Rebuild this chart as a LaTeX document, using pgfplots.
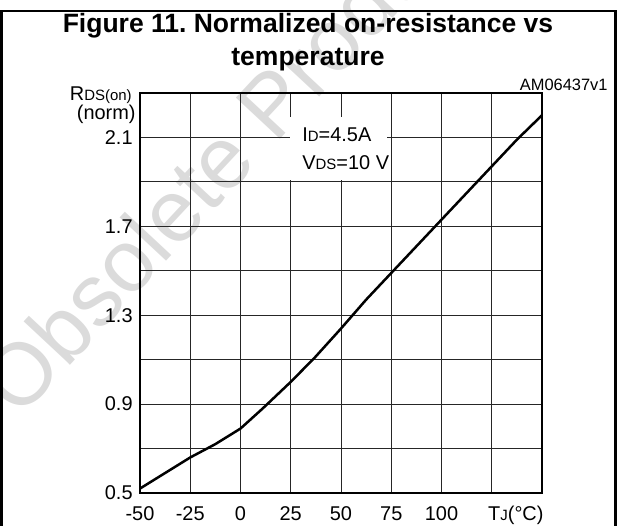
\documentclass[border=0pt]{standalone}
\usepackage{fontspec}
\setmainfont{Liberation Sans}
\usepackage{pgfplots}
\pgfplotsset{compat=1.18}
\newcommand{\sm}[1]{{\fontsize{7.5}{8}\selectfont #1}}
\frenchspacing
\begin{document}
\begin{tikzpicture}
\useasboundingbox (0,0) rectangle (308.5bp,-263bp);
\node[rotate=47, text=black!14, font=\fontsize{44}{44}\selectfont] at (114bp,-75bp) {Obsolete Product};
\draw[line width=1.3bp] (0.6bp,-265bp) -- (0.6bp,-5.5bp) -- (307.8bp,-5.5bp) -- (307.8bp,-265bp);
\node[anchor=base, inner sep=0pt, font=\bfseries\fontsize{13.3}{13.3}\selectfont] at (154bp,-16bp) {Figure 11. Normalized on-resistance vs};
\node[anchor=base, inner sep=0pt, font=\bfseries\fontsize{13.3}{13.3}\selectfont] at (154bp,-32.5bp) {temperature};
\node[anchor=base east, font=\fontsize{8.25}{9}\selectfont, inner sep=0pt] at (304bp,-45bp) {AM06437v1};
\node[anchor=base east, inner sep=0pt, font=\fontsize{10}{12}\selectfont] at (66bp,-50bp) {R\sm{DS(on)}};
\node[anchor=base east, inner sep=0pt, font=\fontsize{10}{12}\selectfont] at (68bp,-59.5bp) {(norm)};
\begin{axis}[at={(70bp,-246.5bp)}, anchor=south west, scale only axis, width=201bp, height=200bp,
 xmin=-50, xmax=150, ymin=0.5, ymax=2.3,
 xtick={-50,-25,0,25,50,75,100,125,150}, xticklabels={-50,-25,0,25,50,75,100,,},
 ytick={0.5,0.7,0.9,1.1,1.3,1.5,1.7,1.9,2.1,2.3}, yticklabels={0.5,,0.9,,1.3,,1.7,,2.1,},
 grid=major, major grid style={black!85, line width=0.5bp},
 major tick length=0pt, tick style={draw=none},
 axis line style={line width=1bp},
 tick label style={font=\fontsize{10}{12}\selectfont},
 xticklabel style={anchor=base, inner sep=0pt, yshift=-13.5bp},
 yticklabel style={anchor=east, inner sep=0pt, xshift=-3.5bp},
 clip=false]
\fill[white] (axis cs:24.8,1.91) rectangle (axis cs:72.8,2.19);
\node[anchor=west, inner sep=0pt, font=\fontsize{10}{12}\selectfont] at (axis cs:30.6,2.113) {I\sm{D}=4.5A};
\node[anchor=west, inner sep=0pt, font=\fontsize{10}{12}\selectfont] at (axis cs:30.6,1.986) {V\sm{DS}=10 V};
\node[anchor=base, inner sep=0pt, font=\fontsize{10}{12}\selectfont, yshift=-13.5bp] at (axis cs:137,0.5) {T\sm{J}(°C)};
\addplot[black, line width=1.25bp] coordinates {
(-50,0.52) (-37.5,0.59) (-25,0.66) (-12.5,0.72) (0,0.79) (11,0.88) (25,1.00) (37,1.11) (50,1.24) (62.5,1.37) (75,1.49) (87.5,1.61) (100,1.73) (112.5,1.85) (125,1.97) (137.5,2.09) (150,2.20)};
\end{axis}
\end{tikzpicture}
\end{document}
